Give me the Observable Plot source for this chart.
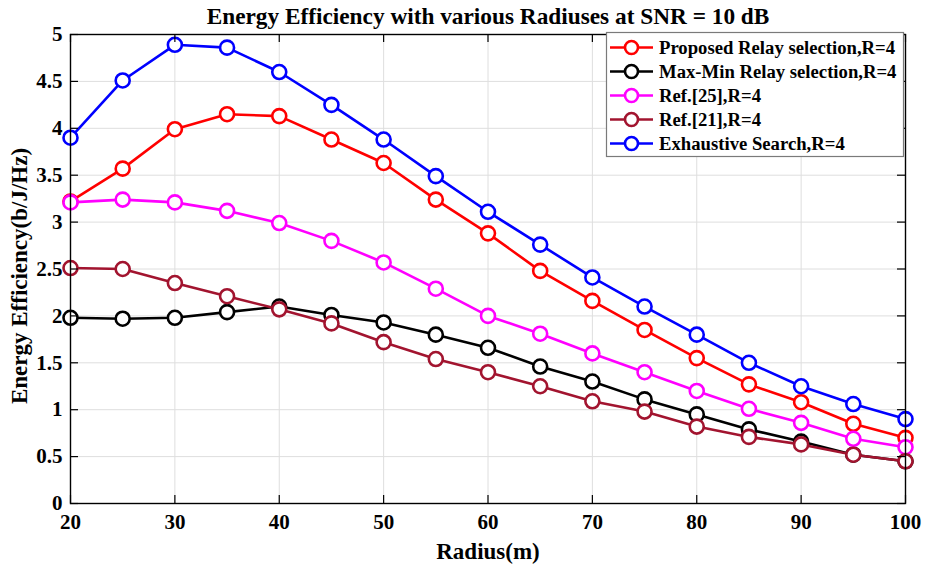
<!DOCTYPE html>
<html>
<head>
<meta charset="utf-8">
<script src="https://cdn.jsdelivr.net/npm/d3@7"></script>
<script src="https://cdn.jsdelivr.net/npm/@observablehq/plot@0.6"></script>
<style>
  body { margin: 0; background: #ffffff; }
  #chart svg { display: block; }
</style>
</head>
<body>
<div id="chart"></div>
<script>
// ---- data ----
const radius     = [20, 25, 30, 35, 40, 45, 50, 55, 60, 65, 70, 75, 80, 85, 90, 95, 100];
const proposed   = [3.22, 3.57, 3.99, 4.15, 4.13, 3.88, 3.63, 3.24, 2.88, 2.48, 2.16, 1.85, 1.55, 1.27, 1.08, 0.85, 0.70];
const maxMin     = [1.98, 1.97, 1.98, 2.04, 2.10, 2.01, 1.93, 1.80, 1.66, 1.46, 1.30, 1.11, 0.95, 0.79, 0.66, 0.52, 0.45];
const ref25      = [3.21, 3.24, 3.21, 3.12, 2.99, 2.80, 2.57, 2.29, 2.00, 1.81, 1.60, 1.40, 1.20, 1.01, 0.86, 0.69, 0.60];
const ref21      = [2.51, 2.50, 2.35, 2.21, 2.07, 1.92, 1.72, 1.54, 1.40, 1.25, 1.09, 0.98, 0.82, 0.71, 0.63, 0.52, 0.45];
const exhaustive = [3.90, 4.51, 4.89, 4.86, 4.60, 4.25, 3.88, 3.49, 3.11, 2.76, 2.41, 2.10, 1.80, 1.50, 1.25, 1.06, 0.90];

const seriesNames  = ["Proposed Relay selection,R=4", "Max-Min Relay selection,R=4", "Ref.[25],R=4", "Ref.[21],R=4", "Exhaustive Search,R=4"];
const seriesColors = ["#ff0000", "#000000", "#ff00ff", "#a2142f", "#0000ff"];
const seriesValues = [proposed, maxMin, ref25, ref21, exhaustive];

const xTicks = [20, 30, 40, 50, 60, 70, 80, 90, 100];
const yTicks = [0, 0.5, 1, 1.5, 2, 2.5, 3, 3.5, 4, 4.5, 5];

const titleText = "Energy Efficiency with various Radiuses at SNR = 10 dB";
const xLabel = "Radius(m)";
const yLabel = "Energy Efficiency(b/J/Hz)";

// ---- layout ----
const W = 925, H = 566;
const mL = 70, mR = 20, mT = 34, mB = 63;
const xDom = [20, 100], yDom = [0, 5];
const tickLen = 8;
const tx = tickLen * (xDom[1] - xDom[0]) / (W - mL - mR);
const ty = tickLen * (yDom[1] - yDom[0]) / (H - mT - mB);
const FONT = "'Liberation Serif', 'Times New Roman', serif";

const table = [];
seriesNames.forEach((name, s) => {
  radius.forEach((r, i) => table.push({series: name, s, radius: r, value: seriesValues[s][i]}));
});

const seriesMarks = [];
seriesNames.forEach((name, s) => {
  const d = table.filter(t => t.s === s);
  seriesMarks.push(Plot.line(d, {x: "radius", y: "value", stroke: seriesColors[s], strokeWidth: 2.6}));
  seriesMarks.push(Plot.dot(d, {x: "radius", y: "value", r: 7, stroke: seriesColors[s], strokeWidth: 2.6, fill: "white"}));
});

const svg = Plot.plot({
  width: W,
  height: H,
  marginLeft: mL, marginRight: mR, marginTop: mT, marginBottom: mB,
  style: {fontFamily: FONT, fontWeight: "bold", background: "white", color: "black", overflow: "visible"},
  x: {domain: xDom, axis: null},
  y: {domain: yDom, axis: null},
  marks: [
    Plot.ruleX(xTicks, {x: d => d, stroke: "#dedede", strokeWidth: 1}),
    Plot.ruleY(yTicks, {y: d => d, stroke: "#dedede", strokeWidth: 1}),
    ...seriesMarks,
    Plot.frame({stroke: "black", strokeWidth: 1.4}),
    Plot.ruleY(yTicks, {y: d => d, x1: xDom[0], x2: xDom[0] + tx, stroke: "black", strokeWidth: 1.2}),
    Plot.ruleY(yTicks, {y: d => d, x1: xDom[1] - tx, x2: xDom[1], stroke: "black", strokeWidth: 1.2}),
    Plot.ruleX(xTicks, {x: d => d, y1: yDom[0], y2: yDom[0] + ty, stroke: "black", strokeWidth: 1.2}),
    Plot.ruleX(xTicks, {x: d => d, y1: yDom[1] - ty, y2: yDom[1], stroke: "black", strokeWidth: 1.2}),
    Plot.text(xTicks, {x: d => d, text: d => String(d), frameAnchor: "bottom", lineAnchor: "top", dy: 11, fontSize: 21, fontWeight: "bold", fill: "black"}),
    Plot.text(yTicks, {y: d => d, text: d => String(d), frameAnchor: "left", textAnchor: "end", dx: -8, fontSize: 21, fontWeight: "bold", fill: "black"}),
    Plot.text([titleText], {frameAnchor: "top", lineAnchor: "bottom", dy: -11, fontSize: 23.3, fontWeight: "bold", fill: "black"}),
    Plot.text([xLabel], {frameAnchor: "bottom", lineAnchor: "bottom", dy: 55, fontSize: 23, fontWeight: "bold", fill: "black"}),
    Plot.text([yLabel], {frameAnchor: "left", rotate: -90, textAnchor: "middle", lineAnchor: "middle", dx: -51, dy: 7, fontSize: 23, fontWeight: "bold", fill: "black"})
  ]
});

// ---- legend ----
const lg = d3.select(svg).append("g").attr("font-family", FONT).attr("font-weight", "bold").attr("text-anchor", "start");
lg.append("rect").attr("x", 606.5).attr("y", 32.5).attr("width", 297).attr("height", 124)
  .attr("fill", "white").attr("stroke", "#7a7a7a").attr("stroke-width", 1.2);
seriesNames.forEach((name, i) => {
  const cy = 47.5 + i * 24;
  lg.append("line").attr("x1", 610).attr("x2", 653).attr("y1", cy).attr("y2", cy)
    .attr("stroke", seriesColors[i]).attr("stroke-width", 2.6);
  lg.append("circle").attr("cx", 631.5).attr("cy", cy).attr("r", 6.5)
    .attr("fill", "white").attr("stroke", seriesColors[i]).attr("stroke-width", 2.6);
  lg.append("text").attr("x", 659).attr("y", cy).attr("dy", "0.35em").attr("text-anchor", "start")
    .attr("font-size", 18.7).attr("fill", "black").text(name);
});

document.getElementById("chart").appendChild(svg);
</script>
</body>
</html>
